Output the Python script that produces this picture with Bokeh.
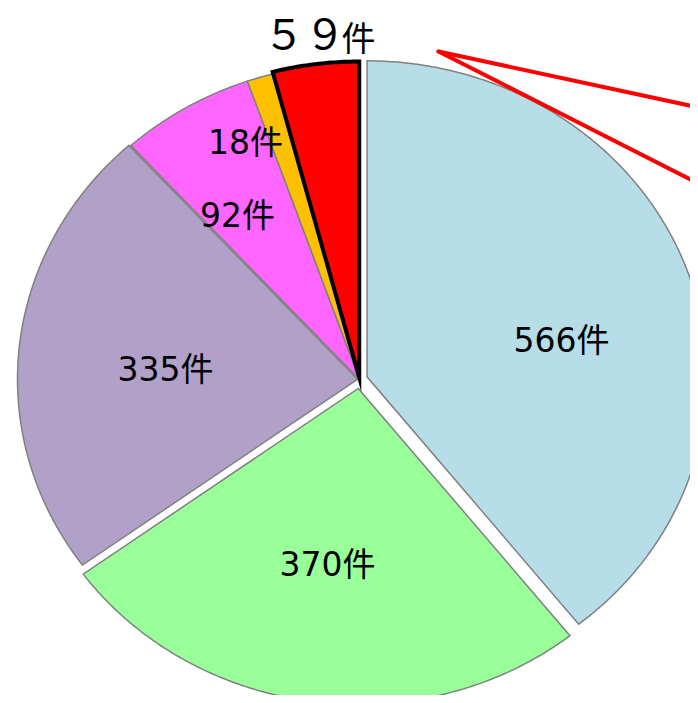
import numpy as np
from bokeh.plotting import figure
from bokeh.models import Range1d, ColumnDataSource
from bokeh.core.properties import value
from bokeh.embed import file_html
from bokeh.resources import INLINE

# ---- data ----
counts = [566, 370, 335, 92, 18, 59]
labels = ["566件", "370件", "335件", "92件", "18件", "59件"]
colors = ["#B7DDE8", "#99FF99", "#B1A0C7", "#FF66FF", "#FFC000", "#FF0000"]

# ---- layout / style (pixel-like data space, y downwards) ----
cx, cy = 359.0, 379.0
rx, ry = 340.0, 316.0
explode = [8.0, 9.0, 2.0, 0.0, 0.0, 2.0]
line_colors = ["#808080"] * 5 + ["#000000"]
line_widths = [1.5] * 5 + [4.0]

label_pos = [(561, 340), (327, 564), (165, 369), (237, 215), (245, 142)]

p = figure(width=690, height=695, output_backend="svg", toolbar_location=None,
           x_range=Range1d(0, 690), y_range=Range1d(695, 0), min_border=0)
p.axis.visible = False
p.grid.visible = False
p.outline_line_color = None
p.background_fill_color = "white"

total = float(sum(counts))
ends = np.cumsum(counts) / total * 2 * np.pi
starts = np.concatenate([[0.0], ends[:-1]])

xs, ys = [], []
for s, e, ex in zip(starts, ends, explode):
    mid = (s + e) / 2
    ox, oy = ex * np.sin(mid), -ex * np.cos(mid)
    th = np.linspace(s, e, max(4, int(np.degrees(e - s) * 2)))
    px = np.concatenate([[cx + ox], cx + ox + rx * np.sin(th), [cx + ox]])
    py = np.concatenate([[cy + oy], cy + oy - ry * np.cos(th), [cy + oy]])
    xs.append(px.tolist())
    ys.append(py.tolist())

src = ColumnDataSource(dict(xs=xs, ys=ys, fill=colors, lc=line_colors, lw=line_widths))
p.patches("xs", "ys", source=src, fill_color="fill", line_color="lc",
          line_width="lw", line_join="miter")

# callout lines
p.segment(x0=[438, 438], y0=[51, 51], x1=[720, 720], y1=[111.7, 194.2],
          line_color="#FF0000", line_width=4, line_cap="round")

# labels
font = value("DejaVu Sans, Noto Sans CJK JP")
p.text(x=[q[0] for q in label_pos], y=[q[1] for q in label_pos], text=labels[:5],
       text_font=font, text_font_size="33px", text_align="center",
       text_baseline="alphabetic", text_color="black")

# highlighted label for the red slice
p.text(x=[304], y=[30], text=["５９"], text_font=value("Noto Sans CJK JP"),
       text_font_size="41px", text_align="center", text_baseline="alphabetic",
       text_color="black")
p.text(x=[341], y=[36], text=["件"], text_font=value("Noto Sans CJK JP"),
       text_font_size="34px", text_align="left", text_baseline="alphabetic",
       text_color="black")

open("out.html", "w").write(file_html(p, INLINE))
